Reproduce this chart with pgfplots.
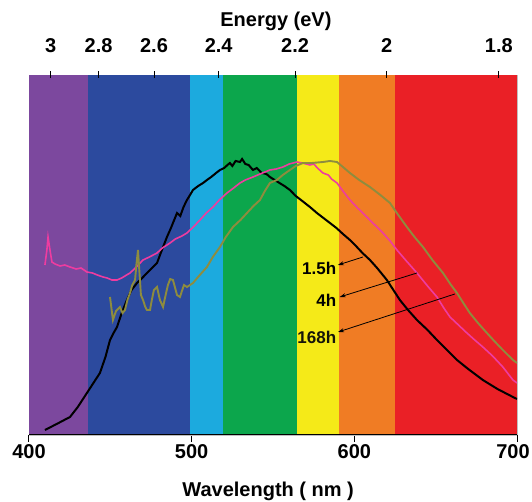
\documentclass[border=0pt]{standalone}
\usepackage{fontspec}
\setmainfont{Liberation Sans}
\usepackage{pgfplots}
\pgfplotsset{compat=1.18}
\usetikzlibrary{arrows.meta}
\definecolor{bviolet}{RGB}{124,72,158}
\definecolor{bblue}{RGB}{44,74,158}
\definecolor{bcyan}{RGB}{28,170,222}
\definecolor{bgreen}{RGB}{12,166,76}
\definecolor{byellow}{RGB}{245,234,24}
\definecolor{borange}{RGB}{240,124,36}
\definecolor{bred}{RGB}{234,32,38}
\definecolor{cpink}{RGB}{238,60,160}
\definecolor{colive}{RGB}{142,140,62}
\newcommand{\lblfont}{\fontsize{20}{23}\selectfont\bfseries}
\begin{document}
\begin{tikzpicture}
\path[use as bounding box] (-29pt,-67pt) rectangle (503pt,435pt);
\begin{axis}[
    at={(0pt,0pt)}, anchor=south west,
    width=488pt, height=360pt, scale only axis,
    xmin=400, xmax=700, ymin=0, ymax=360,
    ytick=\empty,
    xtick={400,500,600}, xticklabels={400,500,600},
    extra x ticks={700}, extra x tick labels={700},
    extra x tick style={xticklabel style={xshift=-4pt}},
    xtick pos=left, tick align=outside,
    major tick length=7pt,
    tick style={black, line width=1pt},
    axis line style={black!25, line width=0.6pt},
    xticklabel style={font=\lblfont, inner sep=2pt},
    xlabel={Wavelength ( nm )},
    xlabel style={font=\lblfont, at={(axis description cs:0.49,0)}, anchor=center, yshift=-56pt},
]
% spectral bands
\addplot[draw=none, fill=bviolet] coordinates {(400,360) (436.5,360)} \closedcycle;
\addplot[draw=none, fill=bblue] coordinates {(436.5,360) (499,360)} \closedcycle;
\addplot[draw=none, fill=bcyan] coordinates {(499,360) (519.5,360)} \closedcycle;
\addplot[draw=none, fill=bgreen] coordinates {(519.5,360) (565,360)} \closedcycle;
\addplot[draw=none, fill=byellow] coordinates {(565,360) (590.5,360)} \closedcycle;
\addplot[draw=none, fill=borange] coordinates {(590.5,360) (625,360)} \closedcycle;
\addplot[draw=none, fill=bred] coordinates {(625,360) (700,360)} \closedcycle;

% 1.5h
\addplot[black, line width=2pt] coordinates {
 (409.8,5) (417,11) (425.2,18) (430,28) (435.6,42) (440,53) (443.6,62) (447,78)
 (449.8,95) (452,102) (454.1,108) (457,122) (460.2,135) (463,145) (466.4,152)
 (469,156) (472.5,162) (475,166) (478.7,172) (481,182) (484.8,198) (487,206)
 (489,214) (491,222) (493,219) (495,228) (497.1,235) (499,240) (500.8,245)
 (504,249) (507,252) (509.4,255) (512,258) (515,262) (517.4,265) (520,267)
 (522,270) (523.5,272) (525,269) (527,274) (529.7,273) (531,276) (533,271)
 (535,270) (537.7,265) (540,267) (543,262) (546,261) (548.1,258) (551,255)
 (554,252) (557,249) (560.4,245) (564,239) (568,234) (572.7,228) (577,222)
 (581,217) (585,212) (589,207) (593,201) (597.3,195) (601,189) (605,182)
 (609.6,175) (614,167) (620,155) (624,145) (628,135) (633,125) (638.5,115)
 (645,105) (650.8,95) (657,85) (663.1,75) (670,66) (679,55) (688,46) (697.5,38) (700,36)
};
% 4h
\addplot[cpink, line width=1.6pt] coordinates {
 (409.8,170) (411,185) (411.7,198) (412.8,186) (414.1,173) (416,171) (419.1,169)
 (422,170) (425.2,168) (429,166) (432,167) (435.6,163) (439,162) (442,160)
 (445.5,158) (448,157) (451,155) (454.1,155) (457,157) (460,160) (462.1,162)
 (466,168) (470.1,175) (474,178) (478.7,182) (482,187) (486.7,192) (490,196)
 (494,199) (497.1,202) (501,208) (505.1,215) (509,222) (513.1,228) (517,235)
 (521.7,242) (525,246) (529.7,252) (533,255) (537.7,258) (542,261) (548.1,265)
 (552,266) (556.1,268) (560,271) (564.7,273) (568,272) (572.7,270) (575,271)
 (578,266) (580.7,262) (584,260) (586,256) (589.3,252) (593,244) (597.3,235)
 (602,227) (607.7,218) (612,211) (617.6,202) (622,194) (626.2,185) (632,174)
 (638.5,162) (645,149) (650.8,138) (655,127) (658.8,118) (664,110) (669.2,102)
 (674,95) (679,88) (685,79) (691.3,68) (697.5,55) (700,52)
};
% 168h
\addplot[colive, line width=1.9pt] coordinates {
 (449.8,138) (451.6,115) (453.5,124) (455.9,128) (457.5,122) (459,125)
 (460.5,135) (462.1,142) (463.5,150) (465.2,155) (466,170) (467,185)
 (468,160) (468.8,140) (470.1,135) (471.5,128) (472.5,125) (474.4,125)
 (475.5,135) (476.8,145) (478.7,148) (480.5,135) (482.4,128) (484,140)
 (485.4,150) (486.8,156) (488.5,155) (490,146) (491,140) (492.8,138)
 (494,144) (495.3,150) (497.1,148) (499,150) (500.8,152) (505,160)
 (509.4,168) (513,178) (517.4,188) (521,198) (525.4,208) (530,215)
 (534,222) (538,229) (542,235) (545,244) (548.1,252) (552.4,255)
 (556,260) (560.4,265) (564,269) (568.4,272) (574,272) (580.7,273)
 (585,274) (589.3,273) (593,268) (597.3,262) (603,255) (609.6,248)
 (616,240) (621.9,232) (627,220) (632.3,208) (637,198) (642.2,188)
 (648,175) (654.5,162) (659,151) (663.1,142) (667,132) (671,122)
 (676,112) (681.5,102) (686,94) (691.3,85) (697.5,75) (700,72)
};

% annotations
\draw[-{Stealth[length=6pt,width=4pt]}, line width=0.8pt] (axis cs:605.3,178) -- (axis cs:589.9,170);
\draw[-{Stealth[length=6pt,width=4pt]}, line width=0.8pt] (axis cs:638.5,162) -- (axis cs:591,138);
\draw[-{Stealth[length=6pt,width=4pt]}, line width=0.8pt] (axis cs:661.8,141) -- (axis cs:590,103);
\node[anchor=east, inner sep=0pt, font=\fontsize{17}{20}\selectfont\bfseries] at (axis cs:589,167) {1.5h};
\node[anchor=east, inner sep=0pt, font=\fontsize{17}{20}\selectfont\bfseries] at (axis cs:589,135) {4h};
\node[anchor=east, inner sep=0pt, font=\fontsize{17}{20}\selectfont\bfseries, text=black!85!colive] at (axis cs:589,98) {168h};

\draw[black, line width=1.2pt] (rel axis cs:0,0) -- (rel axis cs:1,0);
\end{axis}

\begin{axis}[
    at={(0pt,0pt)}, anchor=south west,
    width=488pt, height=360pt, scale only axis,
    xmin=400, xmax=700, ymin=0, ymax=360,
    ytick=\empty,
    axis line style={draw=none},
    xtick={413.28,442.80,476.86,516.60,563.56,619.92,688.80},
    xticklabels={3,2.8,2.6,2.4,2.2,2,1.8},
    xtick pos=right, xticklabel pos=right,
    tick align=center, major tick length=7pt,
    tick style={black, line width=1pt},
    xticklabel style={font=\lblfont, inner sep=2pt, yshift=17pt},
    xlabel={Energy (eV)},
    xlabel style={font=\lblfont, at={(axis description cs:0.506,1)}, anchor=center, yshift=54pt},
]
\end{axis}
\end{tikzpicture}
\end{document}
